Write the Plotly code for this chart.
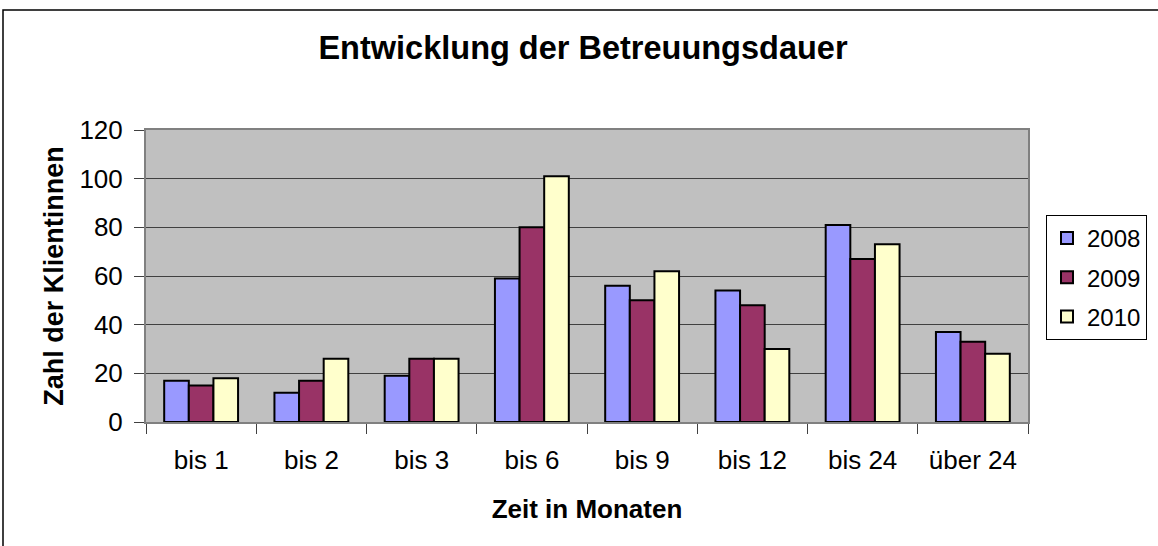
import plotly.graph_objects as go

# Betreuungsdauer nach Jahr
categories = ["bis 1", "bis 2", "bis 3", "bis 6", "bis 9", "bis 12", "bis 24", "über 24"]
years = ["2008", "2009", "2010"]
values_2008 = [17, 12, 19, 59, 56, 54, 81, 37]
values_2009 = [15, 17, 26, 80, 50, 48, 67, 33]
values_2010 = [18, 26, 26, 101, 62, 30, 73, 28]
y_ticks = [0, 20, 40, 60, 80, 100, 120]

colors = ["#9999FF", "#993366", "#FFFFCC"]
FONT = "Liberation Sans, Arial, sans-serif"

W, H = 1158, 546
ML, MR, MT, MB = 146, 130, 130, 124
PW, PH = W - ML - MR, H - MT - MB


def px_x(p):
    return (p - ML) / PW


def px_y(p):
    return 1 - (p - MT) / PH


fig = go.Figure()
for name, vals, col in zip(years, [values_2008, values_2009, values_2010], colors):
    fig.add_trace(go.Bar(
        x=categories, y=vals, name=name, legendgroup=name,
        marker=dict(color=col, line=dict(color="black", width=2)),
    ))

fig.update_layout(
    width=W, height=H,
    margin=dict(l=ML, r=MR, t=MT, b=MB, autoexpand=False),
    paper_bgcolor="white",
    plot_bgcolor="#C0C0C0",
    barmode="group",
    bargap=0.33,
    bargroupgap=0,
    font=dict(family=FONT, size=24, color="black"),
    title=dict(
        text="<b>Entwicklung der Betreuungsdauer</b>",
        font=dict(family=FONT, size=32.5, color="black"),
        x=px_x(583), xref="paper", xanchor="center",
        y=1 - 48 / H, yref="container", yanchor="middle",
    ),
    legend=dict(
        x=px_x(1046), y=px_y(215), xanchor="left", yanchor="top",
        bordercolor="black", borderwidth=1, bgcolor="white",
        font=dict(family=FONT, size=24, color="black"),
        itemwidth=30, tracegroupgap=5,
    ),
    showlegend=True,
    shapes=[
        dict(type="rect", xref="paper", yref="paper",
             x0=px_x(3), x1=px_x(1170), y0=px_y(10), y1=px_y(560),
             line=dict(color="black", width=1.5), fillcolor="rgba(0,0,0,0)",
             layer="below"),
    ],
)

fig.update_xaxes(
    title=dict(text="<b>Zeit in Monaten</b>", font=dict(family=FONT, size=26), standoff=26),
    tickfont=dict(family=FONT, size=26),
    showgrid=False, tickson="boundaries", ticks="outside", ticklen=10,
    tickcolor="#404040", showline=True, linecolor="#808080", linewidth=2, mirror=True,
    ticklabelstandoff=14,
)
fig.update_yaxes(
    title=dict(text="<b>Zahl der Klientinnen</b>", font=dict(family=FONT, size=27), standoff=8),
    tickfont=dict(family=FONT, size=26),
    range=[0, 120], tickvals=y_ticks, showgrid=True, gridcolor="#404040", gridwidth=1,
    zeroline=False, ticks="outside", ticklen=10, tickcolor="#404040",
    showline=True, linecolor="#808080", linewidth=2, mirror=True,
    ticklabelstandoff=6,
)

# the page has an 8px body margin by default; drop it so the chart sits at 0,0
fig.write_html("out.html", config={"displayModeBar": False},
               post_script="document.body.style.margin='0';")
